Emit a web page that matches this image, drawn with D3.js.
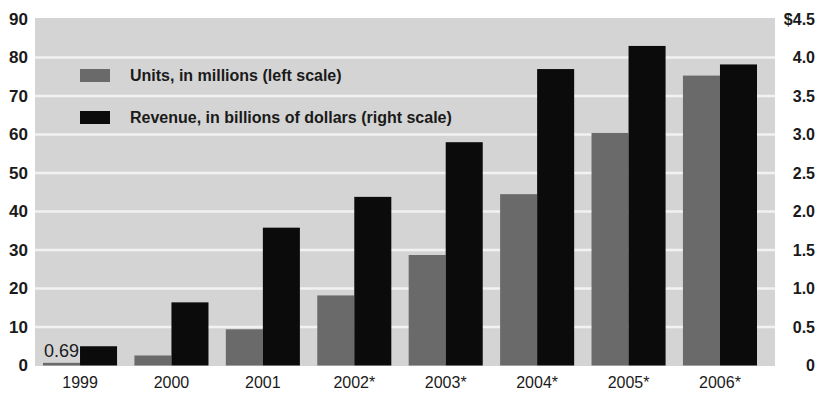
<!DOCTYPE html>
<html>
<head>
<meta charset="utf-8">
<script src="https://cdn.jsdelivr.net/npm/d3@7"></script>
<style>
  body { margin: 0; background: #fff; }
  svg text { fill: #1a1a1a; }
</style>
</head>
<body>
<div id="chart"></div>
<script>
const years = ['1999', '2000', '2001', '2002*', '2003*', '2004*', '2005*', '2006*']
const units = [0.69, 2.6, 9.4, 18.2, 28.7, 44.5, 60.4, 75.3]      // millions, left scale
const revenue = [0.25, 0.82, 1.79, 2.19, 2.90, 3.85, 4.15, 3.91]  // billions of dollars, right scale
const leftTicks = [0, 10, 20, 30, 40, 50, 60, 70, 80, 90]
const rightTicks = [0, 0.5, 1, 1.5, 2, 2.5, 3, 3.5, 4, 4.5]
const seriesNames = ['Units, in millions (left scale)', 'Revenue, in billions of dollars (right scale)']

const width = 817, height = 394
const svg = d3.select('#chart').append('svg')
  .attr('width', width)
  .attr('height', height)

const plot = { left: 35, right: 775, top: 18, bottom: 366 }
const axisFont = 'Liberation Sans Narrow, Liberation Sans, sans-serif'

const x = d3.scaleBand()
  .domain(years)
  .range([43, 757])
  .paddingInner(0.19)
  .paddingOuter(0)

const inner = d3.scaleBand()
  .domain(['units', 'revenue'])
  .range([0, x.bandwidth()])

const yLeft = d3.scaleLinear().domain([0, 90]).range([365.5, 19])
const yRight = d3.scaleLinear().domain([0, 4.5]).range([365.5, 19])

// background panel
svg.append('rect')
  .attr('x', plot.left)
  .attr('y', plot.top)
  .attr('width', plot.right - plot.left)
  .attr('height', plot.bottom - plot.top)
  .attr('fill', '#d4d4d4')

// white gridlines
svg.append('g')
  .selectAll('line')
  .data(leftTicks.filter(d => d > 0 && d < 90))
  .join('line')
  .attr('x1', plot.left)
  .attr('x2', plot.right)
  .attr('y1', d => yLeft(d))
  .attr('y2', d => yLeft(d))
  .attr('stroke', '#f2f2f2')
  .attr('stroke-width', 2.5)

// bars
const group = svg.append('g')
  .selectAll('g.year')
  .data(years)
  .join('g')
  .attr('class', 'year')
  .attr('transform', d => 'translate(' + x(d) + ',0)')

group.append('rect')
  .attr('x', inner('units'))
  .attr('width', inner.bandwidth())
  .attr('y', (d, i) => yLeft(units[i]))
  .attr('height', (d, i) => yLeft(0) - yLeft(units[i]))
  .attr('fill', '#6a6a6a')

group.append('rect')
  .attr('x', inner('revenue'))
  .attr('width', inner.bandwidth())
  .attr('y', (d, i) => yRight(revenue[i]))
  .attr('height', (d, i) => yRight(0) - yRight(revenue[i]))
  .attr('fill', '#0b0b0b')

// label for the tiny 1999 bar
svg.append('text')
  .attr('x', x(years[0]) + 1)
  .attr('y', yLeft(units[0]) - 6)
  .attr('font-family', axisFont)
  .attr('font-size', 18)
  .text(units[0])

// axes
const leftAxis = svg.append('g')
  .attr('transform', 'translate(28,0)')
  .call(d3.axisLeft(yLeft).tickValues(leftTicks).tickSize(0).tickPadding(0))
leftAxis.select('.domain').remove()
leftAxis.selectAll('text')
  .attr('font-family', axisFont)
  .attr('font-weight', 'bold')
  .attr('font-size', 17)
  .attr('fill', '#1a1a1a')

const rightAxis = svg.append('g')
  .attr('transform', 'translate(815,0)')
  .call(d3.axisLeft(yRight).tickValues(rightTicks).tickSize(0).tickPadding(0)
    .tickFormat(d => (d === 4.5 ? '$' : '') + (d === 0 ? '0' : d3.format('.1f')(d))))
rightAxis.select('.domain').remove()
rightAxis.selectAll('text')
  .attr('font-family', axisFont)
  .attr('font-weight', 'bold')
  .attr('font-size', 16)
  .attr('fill', '#1a1a1a')

const bottomAxis = svg.append('g')
  .attr('transform', 'translate(0,' + plot.bottom + ')')
  .call(d3.axisBottom(x).tickSize(0).tickPadding(11))
bottomAxis.select('.domain').remove()
bottomAxis.selectAll('text')
  .attr('font-family', axisFont)
  .attr('font-size', 16)
  .attr('fill', '#1a1a1a')

// legend
const legend = svg.append('g')
  .selectAll('g.item')
  .data(seriesNames)
  .join('g')
  .attr('class', 'item')
  .attr('transform', (d, i) => 'translate(80,' + (69 + i * 42) + ')')

legend.append('rect')
  .attr('width', 30)
  .attr('height', 13)
  .attr('fill', (d, i) => i === 0 ? '#6a6a6a' : '#0b0b0b')

legend.append('text')
  .attr('x', 50)
  .attr('y', 12)
  .attr('font-family', axisFont)
  .attr('font-weight', 'bold')
  .attr('font-size', 16)
  .text(d => d)
</script>
</body>
</html>
